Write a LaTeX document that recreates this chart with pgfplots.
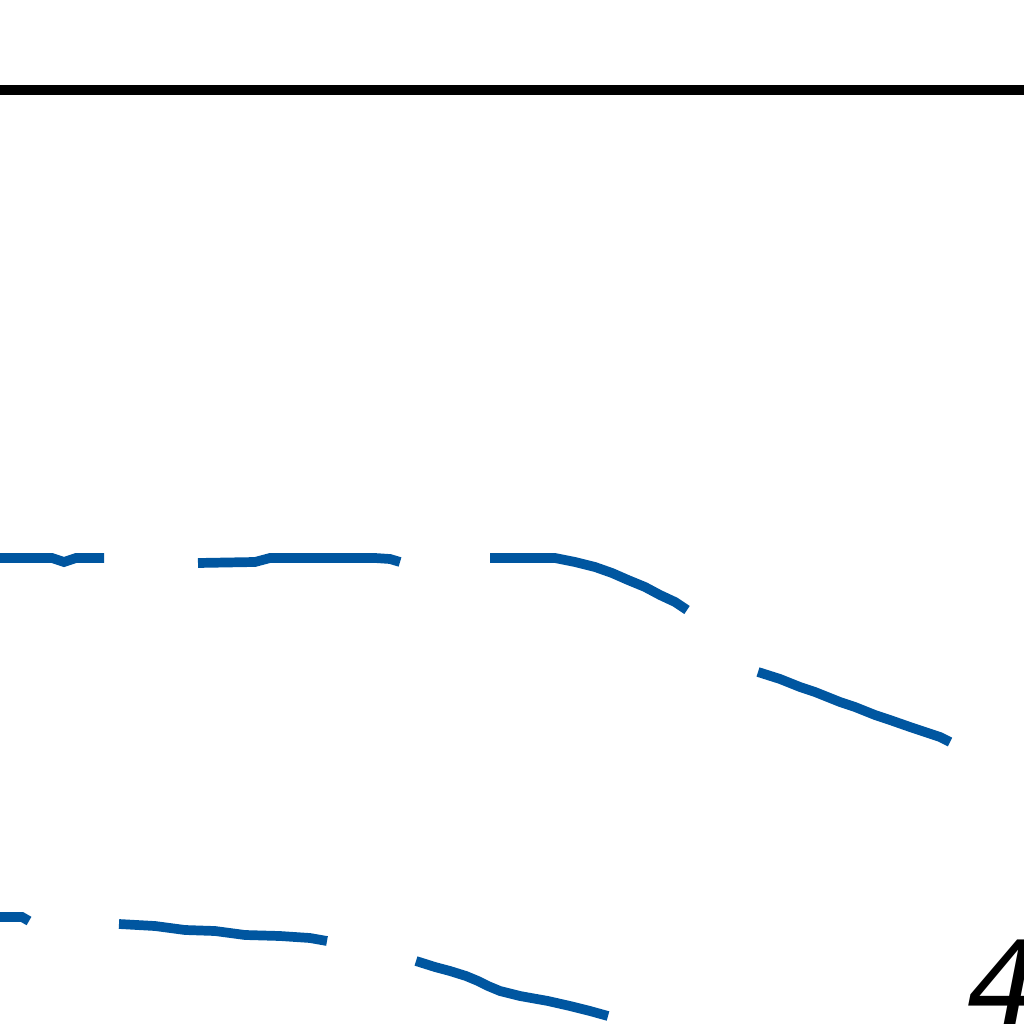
\documentclass[border=0pt]{standalone}
\usepackage{pgfplots}
\pgfplotsset{compat=1.18}
\usepackage{fontspec}
\setmainfont{DejaVu Sans}
\definecolor{lineblue}{RGB}{0,86,160}
\begin{document}
\begin{tikzpicture}
\begin{axis}[
  scale only axis, width=10cm, height=10cm,
  xmin=0, xmax=1024, ymin=0, ymax=1024, y dir=reverse,
  hide axis, clip=true,
]
\addplot[black, line width=2.75pt] coordinates {(-20,90) (1044,90)};
% upper dashed series
\addplot[lineblue, line width=2.7pt] coordinates {(-10,558) (52,558) (64,562) (76,558) (104,558)};
\addplot[lineblue, line width=2.7pt] coordinates {(198,563) (255,562) (270,558) (375,558) (390,559) (400,562)};
\addplot[lineblue, line width=2.7pt] coordinates {(490,558) (555,558) (575,562) (595,567) (612,573) (628,580) (645,587) (660,595) (675,602) (687,610)};
\addplot[lineblue, line width=2.7pt] coordinates {(758,672) (780,679) (800,687) (815,692) (840,702) (855,707) (875,715) (890,720) (910,727) (925,732) (940,737) (950,742)};
% lower dashed series
\addplot[lineblue, line width=2.7pt] coordinates {(-10,917) (22,917) (29,921)};
\addplot[lineblue, line width=2.7pt] coordinates {(119,924) (155,926) (185,930) (215,931) (245,935) (280,936) (310,938) (327,941)};
\addplot[lineblue, line width=2.7pt] coordinates {(416,961) (435,967) (450,971) (466,976) (478,981) (488,986) (500,991) (520,996) (548,1001) (570,1006) (590,1011) (608,1016)};
\node[anchor=base west, inner sep=0pt, font=\fontsize{33}{40}\selectfont\itshape] at (axis cs:966,1026) {4};
\end{axis}
\pgfresetboundingbox
\useasboundingbox (current axis.south west) rectangle (current axis.north east);
\end{tikzpicture}
\end{document}
